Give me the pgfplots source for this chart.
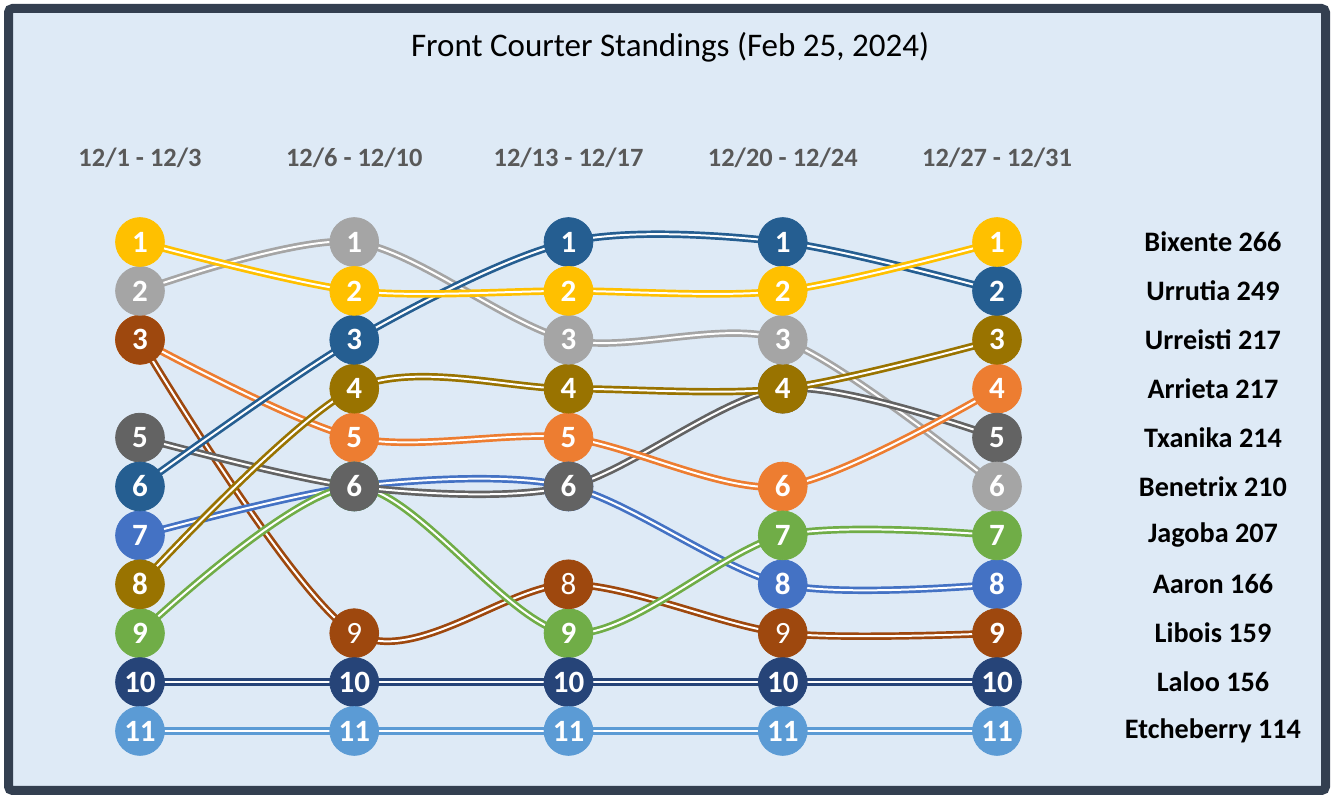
\documentclass[border=0pt]{standalone}
\usepackage{pgfplots}
\pgfplotsset{compat=1.18}
\usepackage{fontspec}
\setmainfont{Carlito}
\definecolor{cGold}{HTML}{FFC000}
\definecolor{cGray}{HTML}{A5A5A5}
\definecolor{cBrown}{HTML}{9E480E}
\definecolor{cDGray}{HTML}{636363}
\definecolor{cDBlue}{HTML}{255E91}
\definecolor{cBlue}{HTML}{4472C4}
\definecolor{cOrange}{HTML}{ED7D31}
\definecolor{cOlive}{HTML}{997300}
\definecolor{cGreen}{HTML}{70AD47}
\definecolor{cNavy}{HTML}{264478}
\definecolor{cLBlue}{HTML}{5B9BD5}
\definecolor{cFrame}{HTML}{333F50}
\definecolor{cBg}{HTML}{DEEAF6}
\definecolor{cHead}{HTML}{595959}
\pgfplotsset{
  bump line/.style={smooth, no marks, line width=1.35pt, double=white, double distance=1.0pt, draw=#1, color=#1},
  bump mark/.style={only marks, mark=*, mark size=12.2pt, color=#1, mark options={draw=none, fill=#1},
    point meta=explicit symbolic, nodes near coords,
    every node near coord/.append style={anchor=center, text=white, inner sep=0pt, font=\bfseries\fontsize{15.5}{15.5}\selectfont}},
  bump markr/.style={only marks, mark=*, mark size=12.2pt, color=#1, mark options={draw=none, fill=#1},
    point meta=explicit symbolic, nodes near coords,
    every node near coord/.append style={anchor=center, text=white, inner sep=0pt, font=\mdseries\fontsize{15.5}{15.5}\selectfont}},
}
\begin{document}
\begin{tikzpicture}
\useasboundingbox (0pt,0pt) rectangle (667pt,398.5pt);
\fill[white] (0pt,0pt) rectangle (667pt,398.5pt);
\draw[line width=4.5pt, draw=cFrame, fill=cBg, rounded corners=2pt] (4.25pt,3.25pt) rectangle (662.75pt,394.25pt);
\begin{axis}[
  at={(0pt,0pt)}, anchor=south west,
  scale only axis, width=667pt, height=398.5pt,
  xmin=-0.6534, xmax=5.5729,
  ymin=-3.949, ymax=12.35, y dir=reverse,
  hide axis, clip=false,
]
% lines
\addplot[bump line=cLBlue] coordinates {(0,11) (1,11) (2,11) (3,11) (4,11)};
\addplot[bump line=cNavy] coordinates {(0,10) (1,10) (2,10) (3,10) (4,10)};
\addplot[bump line=cBrown] coordinates {(0,3) (1,9) (2,8) (3,9) (4,9)};
\addplot[bump line=cBlue] coordinates {(0,7) (1,6) (2,6) (3,8) (4,8)};
\addplot[bump line=cGreen] coordinates {(0,9) (1,6) (2,9) (3,7) (4,7)};
\addplot[bump line=cGray] coordinates {(0,2) (1,1) (2,3) (3,3) (4,6)};
\addplot[bump line=cDGray] coordinates {(0,5) (1,6) (2,6) (3,4) (4,5)};
\addplot[bump line=cOrange] coordinates {(0,3) (1,5) (2,5) (3,6) (4,4)};
\addplot[bump line=cOlive] coordinates {(0,8) (1,4) (2,4) (3,4) (4,3)};
\addplot[bump line=cDBlue] coordinates {(0,6) (1,3) (2,1) (3,1) (4,2)};
\addplot[bump line=cGold] coordinates {(0,1) (1,2) (2,2) (3,2) (4,1)};
% marks
\addplot[bump mark=cOrange] coordinates {(0,3) [3] (1,5) [5] (2,5) [5] (3,6) [6] (4,4) [4]};
\addplot[bump mark=cBlue] coordinates {(0,7) [7] (1,6) [6] (2,6) [6] (3,8) [8] (4,8) [8]};
\addplot[bump mark=cGreen] coordinates {(0,9) [9] (1,6) [6] (2,9) [9] (3,7) [7] (4,7) [7]};
\addplot[bump mark=cDGray] coordinates {(0,5) [5] (1,6) [6] (2,6) [6] (3,4) [4] (4,5) [5]};
\addplot[bump mark=cOlive] coordinates {(0,8) [8] (1,4) [4] (2,4) [4] (3,4) [4] (4,3) [3]};
\addplot[bump mark=cBrown] coordinates {(0,3) [3] (4,9) [9]};
\addplot[bump markr=cBrown] coordinates {(1,9) [9] (2,8) [8] (3,9) [9]};
\addplot[bump mark=cGray] coordinates {(0,2) [2] (1,1) [1] (2,3) [3] (3,3) [3] (4,6) [6]};
\addplot[bump mark=cDBlue] coordinates {(0,6) [6] (1,3) [3] (2,1) [1] (3,1) [1] (4,2) [2]};
\addplot[bump mark=cGold] coordinates {(0,1) [1] (1,2) [2] (2,2) [2] (3,2) [2] (4,1) [1]};
\addplot[bump mark=cNavy] coordinates {(0,10) [10] (1,10) [10] (2,10) [10] (3,10) [10] (4,10) [10]};
\addplot[bump mark=cLBlue] coordinates {(0,11) [11] (1,11) [11] (2,11) [11] (3,11) [11] (4,11) [11]};
% title and headers
\node[font=\fontsize{16.5}{18}\selectfont] at (axis cs:2.474,-2.988) {Front Courter Standings (Feb 25, 2024)};
\begin{scope}[every node/.style={font=\bfseries\fontsize{13.2}{15}\selectfont, text=cHead}]
\node at (axis cs:0,-0.718) {12/1 - 12/3};
\node at (axis cs:1,-0.718) {12/6 - 12/10};
\node at (axis cs:2,-0.718) {12/13 - 12/17};
\node at (axis cs:3,-0.718) {12/20 - 12/24};
\node at (axis cs:4,-0.718) {12/27 - 12/31};
\end{scope}
\begin{scope}[every node/.style={font=\bfseries\fontsize{14.1}{16}\selectfont, text=black}]
\node at (axis cs:5.008,1) {Bixente 266};
\node at (axis cs:5.008,2) {Urrutia 249};
\node at (axis cs:5.008,3) {Urreisti 217};
\node at (axis cs:5.008,4) {Arrieta 217};
\node at (axis cs:5.008,5) {Txanika 214};
\node at (axis cs:5.008,6) {Benetrix 210};
\node at (axis cs:5.008,7) {Jagoba 207};
\node at (axis cs:5.008,8) {Aaron 166};
\node at (axis cs:5.008,9) {Libois 159};
\node at (axis cs:5.008,10) {Laloo 156};
\node at (axis cs:5.008,11) {Etcheberry 114};
\end{scope}
\end{axis}
\end{tikzpicture}
\end{document}
